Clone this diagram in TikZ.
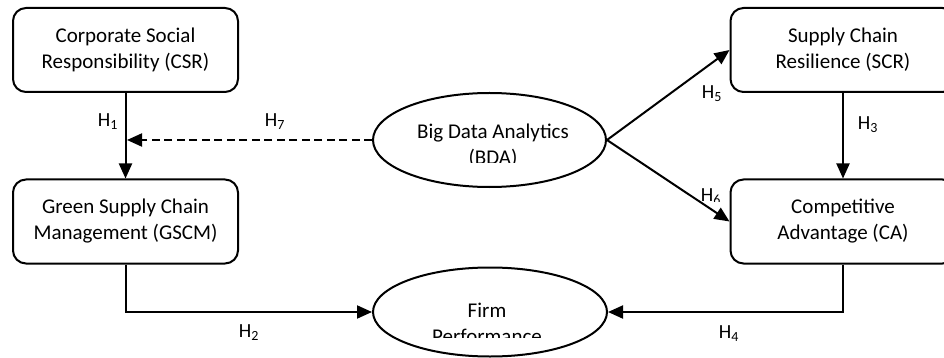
\documentclass[tikz,border=0pt]{standalone}
\usepackage{fontspec}
\setmainfont{Carlito}
\usetikzlibrary{arrows.meta,shapes.geometric}
\begin{document}
\begin{tikzpicture}[x=1pt,y=-1pt,
  txt/.style={font=\fontsize{21}{26}\selectfont, align=center},
  hlab/.style={font=\fontsize{20}{24}\selectfont, inner sep=0pt},
  box/.style={draw, line width=2pt, rounded corners=13pt, minimum width=225pt, minimum height=84pt, txt},
  oval/.style={draw, line width=2pt, ellipse, inner sep=0pt},
  conn/.style={line width=2pt, -{Triangle[length=15pt,width=13pt]}},
]
\useasboundingbox (0,0) rectangle (944,358);
\clip (0,0) rectangle (944,358);

\node[box] (csr) at (125.5,50) {Corporate Social\\Responsibility (CSR)};
\node[box] (gscm) at (125.5,221.5) {Green Supply Chain\\Management (GSCM)};
\node[box] (scr) at (843,50) {Supply Chain\\Resilience (SCR)};
\node[box] (ca) at (843,221.5) {Competitive\\Advantage (CA)};

\node[oval, minimum width=233pt, minimum height=94pt] (bda) at (489.5,140) {};
\node[oval, minimum width=234pt, minimum height=89pt] (firm) at (490,312) {};

\begin{scope}
  \clip (380,100) rectangle (569,163);
  \node[txt] (bdatext) at (493,146) {Big Data Analytics\\(BDA)};
\end{scope}
\begin{scope}
  \clip (390,280) rectangle (590,337);
  \node[txt] (firmtext) at (487,323) {Firm\\Performance};
\end{scope}

\coordinate (j) at (127,140);
\draw[conn] (csr.south) -- (gscm.north);
\draw[conn, dashed, dash pattern=on 8pt off 4.5pt] (bda.west) -- (j);
\draw[conn] (bda.east) -- (scr.west);
\draw[conn] (bda.east) -- (ca.west);
\draw[conn] (scr.south) -- (ca.north);
\draw[conn] (gscm.south) |- (firm.west);
\draw[conn] (ca.south) |- (firm.east);

\node[hlab] (h1) at (108,122) {H\textsubscript{1}};
\node[hlab] (h7) at (275,122) {H\textsubscript{7}};
\node[hlab] (h5) at (712,94) {H\textsubscript{5}};
\node[hlab] (h3) at (868,125) {H\textsubscript{3}};
\node[hlab] (h2) at (249,333) {H\textsubscript{2}};
\begin{scope}
  \clip (690,180) rectangle (730,201);
  \node[hlab] (h6) at (711,197) {H\textsubscript{6}};
\end{scope}
\begin{scope}
  \clip (700,315) rectangle (760,341);
  \node[hlab] (h4) at (729,334) {H\textsubscript{4}};
\end{scope}
\end{tikzpicture}
\end{document}
